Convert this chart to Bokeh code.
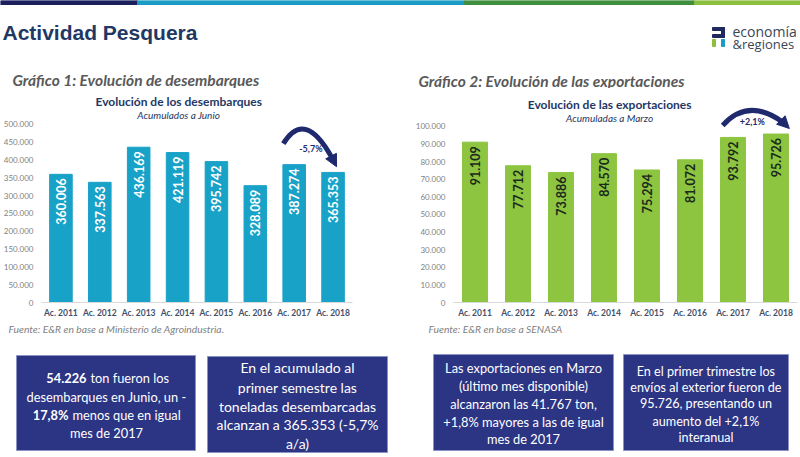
from math import pi
from bokeh.plotting import figure
from bokeh.layouts import column, row
from bokeh.models import ColumnDataSource, Range1d, FactorRange, FixedTicker, Arrow, NormalHead
from bokeh.core.properties import value
from bokeh.embed import file_html
from bokeh.resources import INLINE

# ---------------- data ----------------
categories = ["Ac. 2011", "Ac. 2012", "Ac. 2013", "Ac. 2014",
              "Ac. 2015", "Ac. 2016", "Ac. 2017", "Ac. 2018"]
desembarques = [360006, 337563, 436169, 421119, 395742, 328089, 387274, 365353]
exportaciones = [91109, 77712, 73886, 84570, 75294, 81072, 93792, 95726]

ticks_desemb = [0, 50000, 100000, 150000, 200000, 250000, 300000, 350000, 400000, 450000, 500000]
tick_labels_desemb = ["0", "50.000", "100.000", "150.000", "200.000", "250.000",
                      "300.000", "350.000", "400.000", "450.000", "500.000"]
ticks_export = [0, 10000, 20000, 30000, 40000, 50000, 60000, 70000, 80000, 90000, 100000]
tick_labels_export = ["0", "10.000", "20.000", "30.000", "40.000", "50.000",
                      "60.000", "70.000", "80.000", "90.000", "100.000"]

var_desemb = "-5,7%"
var_export = "+2,1%"

NAVY = "#1f3864"
ARROW = "#1f2a6e"
BLUE = "#19a2c8"
GREEN = "#8dc540"
BOX = "#2c3484"
GRAY = "#595959"
FONT = "Lato"


def fmt(v):
    return f"{v:,}".replace(",", ".")


W = 800
H1, H2, H3 = 88, 232, 137


def blank(width, height, x0, x1, y0, y1):
    f = figure(width=width, height=height, x_range=Range1d(x0, x1), y_range=Range1d(y0, y1),
               output_backend="svg", toolbar_location=None, x_axis_type=None, y_axis_type=None,
               min_border=0)
    f.outline_line_color = None
    f.background_fill_color = "white"
    f.border_fill_color = "white"
    return f


# ---------------- header ----------------
hdr = blank(W, H1, 0, 800, 88, 0)
hdr.quad(left=[0, 137, 464, 694], right=[137, 464, 694, 800], top=[0, 0, 0, 0], bottom=[4, 4, 4, 4],
         color=["#1b1f5c", "#1a9cc4", "#3f8f3e", "#8cbf3f"])
hdr.text(x=[2], y=[32], text=["Actividad Pesquera"], text_font=value("Liberation Sans"),
         text_font_size="21px", text_font_style="bold", text_color=NAVY, text_baseline="alphabetic")
# logo
hdr.quad(left=[712, 721, 712], right=[724, 724, 724], top=[27, 27, 34], bottom=[30, 37, 37], color="#1f2a5e")
hdr.quad(left=[712], right=[715], top=[39], bottom=[46], color="#8cbf3f")
hdr.quad(left=[721], right=[724], top=[39], bottom=[46], color="#1a9cc4")
hdr.text(x=[732, 732], y=[31, 43], text=["economía", "&regiones"], text_font=value("Open Sans"),
         text_font_size=["14px", "13px"], text_color="#3a4654", text_baseline="middle")
hdr.text(x=[12, 418], y=[79, 80],
         text=["Gráfico 1: Evolución de desembarques", "Gráfico 2: Evolución de las exportaciones"],
         text_font=value(FONT), text_font_size="15.5px", text_font_style="bold italic",
         text_color=GRAY, text_baseline="alphabetic")


# ---------------- bar charts ----------------
def bar_chart(width, vals, ticks, tick_labels, y_end, left, right, color, lbl_color,
              title, subtitle, tx, ty_off, sty_off):
    src = ColumnDataSource(dict(cat=categories, val=vals, lbl=[fmt(v) for v in vals]))
    p = figure(width=width, height=H2, x_range=FactorRange(*categories), y_range=Range1d(0, y_end),
               output_backend="svg", toolbar_location=None,
               min_border_left=left, min_border_right=right, min_border_top=0, min_border_bottom=18)
    p.outline_line_color = None
    p.xgrid.visible = False
    p.ygrid.visible = False
    p.vbar(x="cat", top="val", width=0.58, source=src, color=color)
    p.text(x="cat", y="val", text="lbl", source=src, angle=pi / 2, text_align="right",
           text_baseline="middle", y_offset=4, text_font=value(FONT), text_font_size="12.5px",
           text_font_style="bold", text_color=lbl_color)
    p.text(x=[tx], y=[y_end], text=[title], y_offset=ty_off, text_align="center",
           text_baseline="alphabetic", text_font=value(FONT), text_font_size="12px",
           text_font_style="bold", text_color=NAVY)
    p.text(x=[tx], y=[y_end], text=[subtitle], y_offset=sty_off, text_align="center",
           text_baseline="alphabetic", text_font=value(FONT), text_font_size="10px",
           text_font_style="italic", text_color=NAVY)
    xa = p.xaxis[0]
    xa.axis_line_color = "#d9d9d9"
    xa.major_tick_line_color = None
    xa.minor_tick_line_color = None
    xa.major_tick_out = 0
    xa.major_tick_in = 0
    xa.major_label_text_font = FONT
    xa.major_label_text_font_size = "8.5px"
    xa.major_label_text_font_style = "bold"
    xa.major_label_text_color = "#44506a"
    xa.major_label_standoff = 5
    ya = p.yaxis[0]
    ya.ticker = FixedTicker(ticks=ticks)
    ya.major_label_overrides = {t: l for t, l in zip(ticks, tick_labels)}
    ya.axis_line_color = None
    ya.major_tick_line_color = None
    ya.minor_tick_line_color = None
    ya.major_tick_out = 0
    ya.major_tick_in = 0
    ya.major_label_text_font = FONT
    ya.major_label_text_font_size = "8px"
    ya.major_label_text_color = "#7f7f7f"
    ya.major_label_standoff = 8
    return p


def curved_arrow(p, x0, y0, cx, cy, x1, y1, xt, yt, lx, ly, label):
    p.quadratic(x0=[x0], y0=[y0], x1=[x1], y1=[y1], cx=[cx], cy=[cy], line_color=ARROW, line_width=5)
    p.add_layout(Arrow(end=NormalHead(size=12, fill_color=ARROW, line_color=ARROW),
                       x_start=x1, y_start=y1, x_end=xt, y_end=yt, line_color=None))
    p.text(x=[lx], y=[ly], text=[label], text_align="center", text_baseline="middle",
           text_font=value(FONT), text_font_size="9px", text_font_style="bold", text_color=ARROW)


p1 = bar_chart(408, desembarques, ticks_desemb, tick_labels_desemb, 601100, 37, 56, BLUE, "white",
               "Evolución de los desembarques", "Acumulados a Junio", 3.53, 13, 26)
p2 = bar_chart(392, exportaciones, ticks_export, tick_labels_export, 121590, 45, 3, GREEN, "#1b2a1b",
               "Evolución de las exportaciones", "Acumuladas a Marzo", 3.63, 16, 29)

i17 = categories.index("Ac. 2017")
i18 = categories.index("Ac. 2018")
c17, c18 = i17 + 0.5, i18 + 0.5
a17, a18 = desembarques[i17], desembarques[i18]
curved_arrow(p1, c17 - 0.28, a17 + 59000, c17 + 0.275, a17 + 157800, c18 - 0.03, a18 + 41600,
             c18 + 0.09, a18 + 16000, c17 + 0.43, a17 + 45000, var_desemb)
e17, e18 = exportaciones[i17], exportaciones[i18]
curved_arrow(p2, c17 - 0.24, e17 + 6800, c17 + 0.355, e17 + 22970, c18 + 0.17, e18 + 6570,
             c18 + 0.31, e18 + 3130, c17 + 0.45, e17 + 9060, var_export)

# ---------------- bottom: sources and boxes ----------------
bot = blank(W, H3, 0, 800, 457, 320)
bot.text(x=[8, 428], y=[328, 328],
         text=["Fuente: E&R en base a Ministerio de Agroindustria.", "Fuente: E&R en base a SENASA"],
         text_font=value(FONT), text_font_size="10.3px", text_font_style="italic",
         text_color="#7f7f7f", text_baseline="middle")
bot.quad(left=[16, 207, 433, 623], right=[195, 387, 613, 788], top=[355, 356, 354, 354],
         bottom=[450, 452, 450, 450], fill_color=BOX, line_color="#8a93c4", line_width=1)

# box 1 (mixed bold)
bot.text(x=[86, 68], y=[377, 414], text=["54.226", "17,8%"], text_align="right", text_baseline="middle",
         text_font=value(FONT), text_font_size="12.8px", text_font_style="bold", text_color="white")
bot.text(x=[90, 72], y=[377, 414], text=["ton fueron los", "menos que en igual"], text_align="left",
         text_baseline="middle", text_font=value(FONT), text_font_size="12.8px", text_color="white")
bot.text(x=[106, 106], y=[396, 432], text=["desembarques en Junio, un -", "mes de 2017"],
         text_align="center", text_baseline="middle", text_font=value(FONT), text_font_size="12.8px",
         text_color="white")

box2 = ["En el acumulado al", "primer semestre las", "toneladas desembarcadas",
        "alcanzan a 365.353 (-5,7%", "a/a)"]
box3 = ["Las exportaciones en Marzo", "(último mes disponible)", "alcanzaron las 41.767 ton,",
        "+1,8% mayores a las de igual", "mes de 2017"]
box4 = ["En el primer trimestre los", "envíos al exterior fueron de", "95.726, presentando un",
        "aumento del +2,1%", "interanual"]
bot.text(x=[297] * 5, y=[367, 387, 406, 424, 443], text=box2, text_align="center", text_baseline="middle",
         text_font=value(FONT), text_font_size="14px", text_color="white")
bot.text(x=[523] * 5, y=[367, 385, 403, 421, 438], text=box3, text_align="center", text_baseline="middle",
         text_font=value(FONT), text_font_size="12.8px", text_color="white")
bot.text(x=[705.5] * 5, y=[371, 387, 403, 421, 437], text=box4, text_align="center", text_baseline="middle",
         text_font=value(FONT), text_font_size="12.6px", text_color="white")

layout = column(hdr, row(p1, p2), bot)
open("out.html", "w").write(file_html(layout, INLINE))
